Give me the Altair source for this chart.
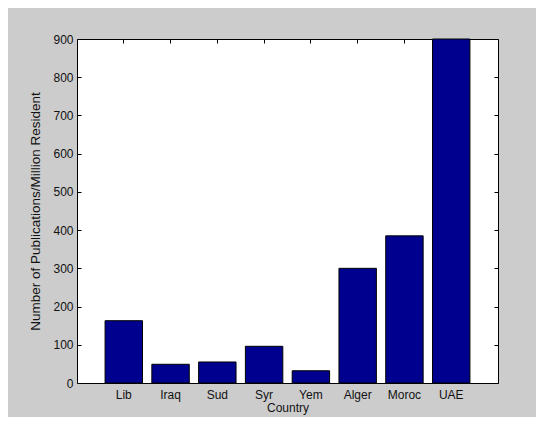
import altair as alt
import pandas as pd

countries = ["Lib", "Iraq", "Sud", "Syr", "Yem", "Alger", "Moroc", "UAE"]
values = [163, 49, 55, 96, 32, 300, 385, 900]
y_ticks = [0, 100, 200, 300, 400, 500, 600, 700, 800, 900]

df = pd.DataFrame({"Country": countries, "Value": values})

FONT = "Liberation Sans"
BAR = "#00008F"

x_scale = alt.Scale(domain=countries, paddingInner=0.2, paddingOuter=0.6)
y_scale = alt.Scale(domain=[0, 900], nice=False, zero=True)

bars = alt.Chart(df).mark_bar(color=BAR, stroke="#000000", strokeWidth=1).encode(
    x=alt.X("Country:N", sort=countries, scale=x_scale,
            axis=alt.Axis(orient="bottom", title="Country", ticks=False, domain=False,
                          labelAngle=0, labelPadding=6, titlePadding=2,
                          labelFontSize=12, titleFontSize=12, labelFont=FONT, titleFont=FONT,
                          labelColor="#111", titleColor="#111", titleFontWeight="normal")),
    y=alt.Y("Value:Q", scale=y_scale,
            axis=alt.Axis(orient="left", title="Number of Publications/Million Resident",
                          values=y_ticks, offset=-4, tickSize=4, domain=False, grid=False,
                          tickColor="#000", labelPadding=4, titlePadding=10,
                          labelFontSize=12, titleFontSize=13.5, labelFont=FONT, titleFont=FONT,
                          labelColor="#111", titleColor="#111", titleFontWeight="normal")),
)

ticks_layer = alt.Chart(df).mark_bar(opacity=0).encode(
    x=alt.X("Country:N", sort=countries, scale=x_scale,
            axis=alt.Axis(orient="top", title=None, labels=False, offset=-4, tickSize=4,
                          domain=False, tickColor="#000")),
    y=alt.Y("Value:Q", scale=y_scale,
            axis=alt.Axis(orient="right", title=None, labels=False, values=y_ticks,
                          offset=-4, tickSize=4, domain=False, grid=False, tickColor="#000")),
)

chart = alt.layer(bars, ticks_layer).resolve_axis(x="independent", y="independent").properties(
    width=421,
    height=344,
    autosize=alt.AutoSizeParams(type="none"),
    padding={"left": 69, "top": 31, "right": 38, "bottom": 34},
    background="#cccccc",
).configure_view(
    fill="#ffffff", stroke="#000000", strokeWidth=1
)

chart.save("out.html", embed_options={"renderer": "svg", "actions": False})
